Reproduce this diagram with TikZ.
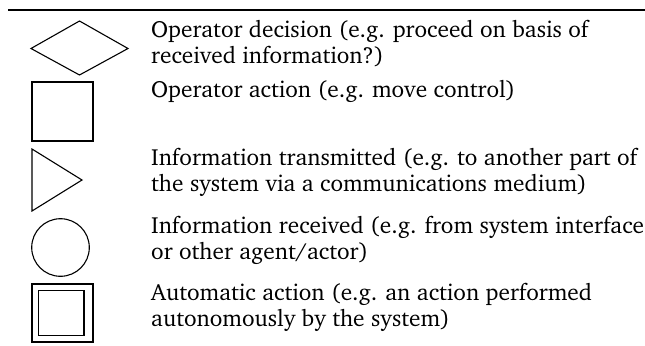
\documentclass[tikz,border=0pt]{standalone}
\usepackage[T1]{fontenc}
\usepackage{charter}
\begin{document}
\begin{tikzpicture}[x=1bp,y=-1bp,line join=miter,
  shp/.style={draw=black,line width=1.1bp},
  lbl/.style={anchor=base west,inner sep=0pt,align=left,
    font=\fontsize{23.3bp}{26bp}\selectfont}]
\useasboundingbox (0,0) rectangle (645,345);
\draw[line width=2bp] (8,10) -- (645,10);
% shapes
\draw[shp] (31,48.5) -- (79.5,21) -- (128,48.5) -- (79.5,75) -- cycle;
\draw[shp] (32,82) rectangle (93,141);
\draw[shp] (32,149) -- (82,180) -- (32,211) -- cycle;
\draw[shp] (60.5,247.5) circle[radius=28.8];
\draw[shp] (32,284) rectangle (93,342);
\draw[shp] (38.3,290.7) rectangle (84,335.3);
% labels (base anchor = last line's baseline)
\node[lbl] (t1) at (151,63) {Operator decision (e.g. proceed on basis of\\received information?)};
\node[lbl] (t2) at (151,97) {Operator action (e.g. move control)};
\node[lbl] (t3) at (151,191) {Information transmitted (e.g. to another part of\\the system via a communications medium)};
\node[lbl] (t4) at (151,259) {Information received (e.g. from system interface\\or other agent/actor)};
\node[lbl] (t5) at (151,326) {Automatic action (e.g. an action performed\\autonomously by the system)};
\end{tikzpicture}
\end{document}
